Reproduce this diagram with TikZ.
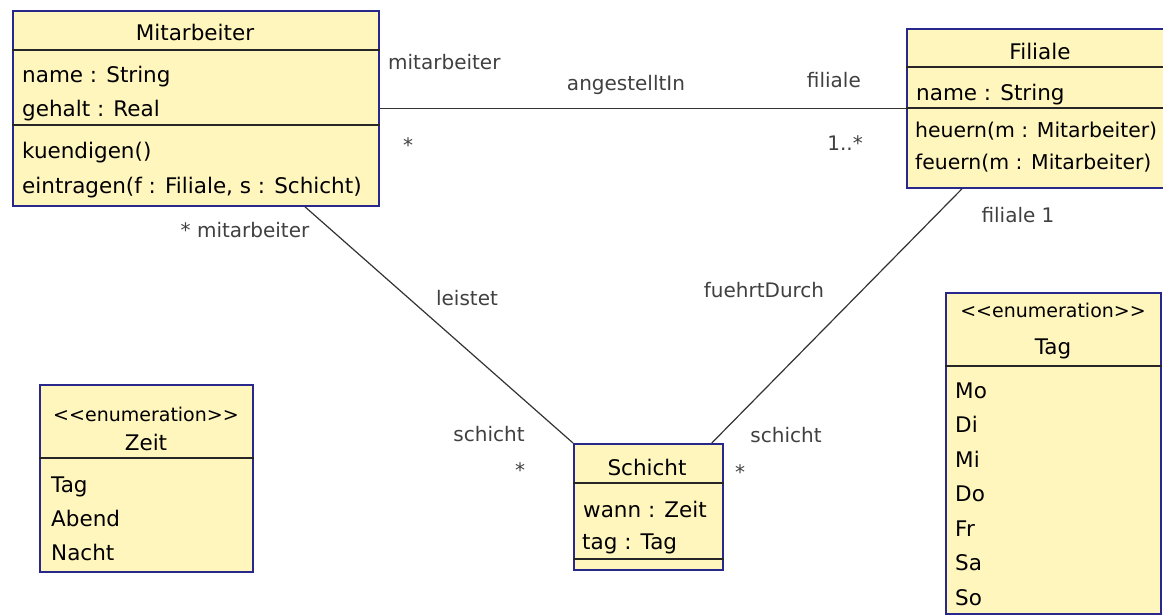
\documentclass[tikz,border=0pt]{standalone}
\usepackage{fontspec}
\setmainfont{DejaVu Sans}
\usetikzlibrary{calc}
\definecolor{classfill}{RGB}{255,246,190}
\definecolor{classborder}{RGB}{40,40,140}
\definecolor{labelgray}{RGB}{64,64,64}
\newcommand\umlfont{\fontsize{21.5}{24}\selectfont}
\newcommand\narrowfont{\fontsize{20.4}{24}\selectfont}
\newcommand\rolefont{\fontsize{20}{24}\selectfont}
\newcommand\stereofont{\fontsize{19}{22}\selectfont}
% keeps "<<" and ">>" from turning into guillemets
\newcommand\stereotype[1]{<\kern0pt<#1>\kern0pt>}

\begin{document}
\begin{tikzpicture}[x=1pt,y=-1pt,
  classbox/.style={draw=classborder, fill=classfill, line width=1.8pt,
                   inner sep=0pt, anchor=north west},
  divider/.style={draw=black!85, line width=1.4pt},
  assoc/.style={draw=black!80, line width=1.2pt},
  member/.style={anchor=base west, inner sep=0pt, font=\umlfont},
  title/.style={anchor=base, inner sep=0pt, font=\umlfont},
  stereo/.style={anchor=base, inner sep=0pt, font=\stereofont},
  role/.style={anchor=base, inner sep=0pt, font=\rolefont, text=labelgray},
]
% canvas
\useasboundingbox (0,0) rectangle (1163,614);
\fill[white] (0,0) rectangle (1163,614);
\clip (0,0) rectangle (1163,614);

% ---- class Mitarbeiter ----
\node[classbox, minimum width=366pt, minimum height=195pt] (mit) at (12,10) {};
\draw[divider] (mit.west |- 0,50) -- (mit.east |- 0,50);
\draw[divider] (mit.west |- 0,125) -- (mit.east |- 0,125);
\node[title] (mitname) at (195,40) {Mitarbeiter};
\node[member] (mita1) at (22,82) {name : String};
\node[member] (mita2) at (22,116) {gehalt : Real};
\node[member] (mito1) at (22,158) {kuendigen()};
\node[member] (mito2) at (22,193) {eintragen(f : Filiale, s : Schicht)};

% ---- class Filiale ----
\node[classbox, minimum width=266pt, minimum height=159pt] (fil) at (906,28) {};
\draw[divider] (fil.west |- 0,67) -- (fil.east |- 0,67);
\draw[divider] (fil.west |- 0,108) -- (fil.east |- 0,108);
\node[title] (filname) at (1040,59) {Filiale};
\node[member] (fila1) at (916,100) {name : String};
\node[member, font=\narrowfont] (filo1) at (915,137) {heuern(m : Mitarbeiter)};
\node[member, font=\narrowfont] (filo2) at (915,169) {feuern(m : Mitarbeiter)};

% ---- class Schicht ----
\node[classbox, minimum width=149pt, minimum height=126pt] (sch) at (573,443) {};
\draw[divider] (sch.west |- 0,483) -- (sch.east |- 0,483);
\draw[divider] (sch.west |- 0,559) -- (sch.east |- 0,559);
\node[title] (schname) at (647,475) {Schicht};
\node[member] (scha1) at (583,517) {wann : Zeit};
\node[member] (scha2) at (582,549) {tag : Tag};

% ---- enumeration Zeit ----
\node[classbox, minimum width=213pt, minimum height=187pt] (zeit) at (39,384) {};
\draw[divider] (zeit.west |- 0,458) -- (zeit.east |- 0,458);
\node[stereo] (zeitst) at (146,421) {\stereotype{enumeration}};
\node[title] (zeitname) at (146,450) {Zeit};
\node[member] (zeit1) at (51,492) {Tag};
\node[member] (zeit2) at (51,526) {Abend};
\node[member] (zeit3) at (51,560) {Nacht};

% ---- enumeration Tag ----
\node[classbox, minimum width=215pt, minimum height=321pt] (tag) at (945,292) {};
\draw[divider] (tag.west |- 0,366) -- (tag.east |- 0,366);
\node[stereo] (tagst) at (1053,317) {\stereotype{enumeration}};
\node[title] (tagname) at (1053,354) {Tag};
\node[member] (tag1) at (955,398) {Mo};
\node[member] (tag2) at (955,432) {Di};
\node[member] (tag3) at (955,467) {Mi};
\node[member] (tag4) at (955,501) {Do};
\node[member] (tag5) at (955,536) {Fr};
\node[member] (tag6) at (955,570) {Sa};
\node[member] (tag7) at (955,605) {So};

% ---- associations ----
\draw[assoc] (mit.east) -- (fil.west);
\draw[assoc] ([xshift=293pt]mit.south west) -- (sch.north west);
\draw[assoc] ([xshift=56pt]fil.south west) -- ([xshift=-12pt]sch.north east);

% angestelltIn
\node[role, anchor=base west] (r1) at (388,69) {mitarbeiter};
\node[role] (a1) at (626,90) {angestelltIn};
\node[role, anchor=base east] (r2) at (861,87) {filiale};
\node[role] (m1) at (408,152) {*};
\node[role, anchor=base east] (m2) at (863,150) {1..*};

% leistet
\node[role] (r3) at (245,237) {* mitarbeiter};
\node[role] (a2) at (467,305) {leistet};
\node[role] (r4) at (489,441) {schicht};
\node[role] (m3) at (520,477) {*};

% fuehrtDurch
\node[role] (a3) at (764,297) {fuehrtDurch};
\node[role] (r5) at (786,442) {schicht};
\node[role] (m4) at (740,479) {*};
\node[role] (r6) at (1018,222) {filiale 1};
\end{tikzpicture}
\end{document}
